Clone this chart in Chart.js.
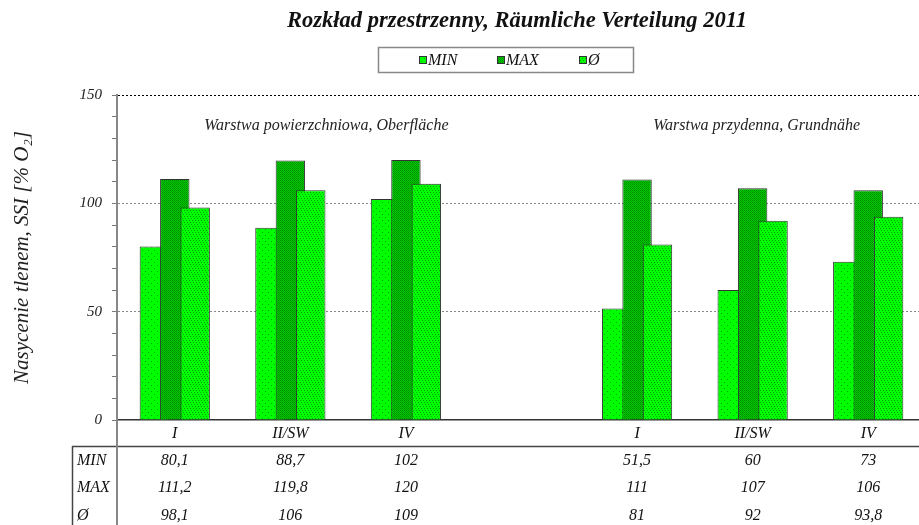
<!DOCTYPE html>
<html>
<head>
<meta charset="utf-8">
<script src="https://cdn.jsdelivr.net/npm/chart.js@4/dist/chart.umd.min.js"></script>
<style>
html,body{margin:0;padding:0;background:#fff;overflow:hidden;width:919px;height:525px;}
canvas{display:block;}
</style>
</head>
<body>
<canvas id="c" width="926" height="525"></canvas>
<script>
const categories = ['I', 'II/SW', 'IV', '', 'I', 'II/SW', 'IV'];
const minValues = [80.1, 88.7, 102, null, 51.5, 60, 73];
const maxValues = [111.2, 119.8, 120, null, 111, 107, 106];
const avgValues = [98.1, 106, 109, null, 81, 92, 93.8];
const seriesLabels = ['MIN', 'MAX', 'Ø'];
const yTickLabels = [0, 50, 100, 150];
const titleText = 'Rozkład przestrzenny, Räumliche Verteilung 2011';
const yTitle = 'Nasycenie tlenem, SSI [% O₂]';
const groupNotes = ['Warstwa powierzchniowa, Oberfläche', 'Warstwa przydenna, Grundnähe'];

const SERIF = '"Liberation Serif", "Times New Roman", serif';

function makePattern(base, dots, size) {
  const c = document.createElement('canvas');
  c.width = size; c.height = size;
  const g = c.getContext('2d');
  g.fillStyle = base; g.fillRect(0, 0, size, size);
  dots.forEach(d => { g.fillStyle = d[2]; g.fillRect(d[0], d[1], 1, 1); });
  return g.createPattern(c, 'repeat');
}
const patMin = makePattern('#00ff00', [[1,1,'#00a000'],[4,4,'#00a000']], 6);
const patMax = makePattern('#00cc00', [[0,0,'#008800'],[2,0,'#008800'],[1,1,'#009900'],[3,1,'#009900'],[0,2,'#008800'],[2,2,'#008800'],[1,3,'#009900'],[3,3,'#009900']], 4);
const patAvg = makePattern('#00ff00', [[1,0,'#00a000'],[4,0,'#00a000'],[2,2,'#00b000'],[5,2,'#00b000'],[0,4,'#00a000'],[3,4,'#00a000']], 6);
const patterns = [patMin, patMax, patAvg];

const fmt = v => v === null ? '' : String(v).replace('.', ',');

const drawOrderPlugin = {
  id: 'drawOrder',
  beforeDatasetsDraw(chart) {
    const ctx = chart.ctx, a = chart.chartArea;
    ctx.save();
    ctx.beginPath();
    ctx.rect(a.left, a.top - 2, a.right - a.left, a.bottom - a.top + 2);
    ctx.clip();
    chart.getSortedVisibleDatasetMetas().forEach(m => m.controller.draw());
    ctx.restore();
    return false;
  }
};

const extrasPlugin = {
  id: 'extras',
  afterDraw(chart) {
    const ctx = chart.ctx, a = chart.chartArea;
    const xs = chart.scales.x, ys = chart.scales.y;
    ctx.save();
    // title
    ctx.fillStyle = '#111';
    ctx.font = 'italic bold 22.5px ' + SERIF;
    ctx.textAlign = 'center';
    ctx.textBaseline = 'middle';
    ctx.fillText(titleText, 517, 21);
    // legend box
    ctx.strokeStyle = '#888';
    ctx.lineWidth = 1.5;
    ctx.strokeRect(378.5, 47.5, 255, 25);
    const legX = [419, 497, 579];
    ctx.font = 'italic 16px ' + SERIF;
    ctx.textAlign = 'left';
    seriesLabels.forEach((lab, i) => {
      ctx.fillStyle = patterns[i];
      ctx.fillRect(legX[i], 56, 8, 8);
      ctx.strokeStyle = '#333'; ctx.lineWidth = 1;
      ctx.strokeRect(legX[i] + 0.5, 56.5, 7, 7);
      ctx.fillStyle = '#111';
      ctx.fillText(lab, legX[i] + 9, 61);
    });
    // group notes
    ctx.font = 'italic 16px ' + SERIF;
    ctx.textAlign = 'center';
    ctx.fillStyle = '#222';
    ctx.fillText(groupNotes[0], xs.getPixelForValue(1) + 36, ys.getPixelForValue(136));
    ctx.fillText(groupNotes[1], xs.getPixelForValue(5) + 4, ys.getPixelForValue(136));
    // table
    ctx.strokeStyle = '#444';
    ctx.lineWidth = 1.5;
    ctx.beginPath();
    ctx.moveTo(72, 446.5); ctx.lineTo(chart.width, 446.5);
    ctx.moveTo(72.5, 446); ctx.lineTo(72.5, 525);
    ctx.stroke();
    ctx.strokeStyle = '#888';
    ctx.lineWidth = 2;
    ctx.beginPath();
    ctx.moveTo(a.left, a.bottom); ctx.lineTo(a.left, 525);
    ctx.stroke();
    const rows = [minValues, maxValues, avgValues];
    const rowY = [461, 488, 516];
    ctx.font = 'italic 16px ' + SERIF;
    ctx.fillStyle = '#111';
    rows.forEach((vals, r) => {
      ctx.textAlign = 'left';
      ctx.fillText(seriesLabels[r], 77, rowY[r]);
      ctx.textAlign = 'center';
      vals.forEach((v, i) => ctx.fillText(fmt(v), xs.getPixelForValue(i), rowY[r]));
    });
    ctx.restore();
  }
};

new Chart(document.getElementById('c'), {
  type: 'bar',
  data: {
    labels: categories,
    datasets: [
      { label: seriesLabels[0], data: minValues, backgroundColor: patMin },
      { label: seriesLabels[1], data: maxValues, backgroundColor: patMax },
      { label: seriesLabels[2], data: avgValues, backgroundColor: patAvg }
    ]
  },
  options: {
    responsive: false,
    animation: false,
    devicePixelRatio: 1,
    layout: { padding: { top: 95, left: 0, right: 0, bottom: 0 } },
    datasets: { bar: { categoryPercentage: 0.53, barPercentage: 1.44, borderColor: '#333', borderWidth: 1, borderSkipped: 'bottom' } },
    plugins: { legend: { display: false }, title: { display: false }, tooltip: { enabled: false } },
    scales: {
      x: {
        grid: { display: false },
        border: { display: true, color: '#333', width: 1.5 },
        ticks: { color: '#111', font: { family: SERIF, size: 16, style: 'italic' }, padding: -4, maxRotation: 0, autoSkip: false },
        afterFit(s) { s.height = 105; }
      },
      y: {
        min: 0, max: 150,
        ticks: {
          stepSize: 10,
          color: '#222',
          font: { family: SERIF, size: 15, style: 'italic' },
          padding: 10,
          callback: v => yTickLabels.includes(v) ? String(v) : ''
        },
        grid: {
          color: c => (c.tick && c.tick.value === 150) ? '#000' : ((c.tick && c.tick.value > 0 && c.tick.value % 50 === 0) ? '#888' : 'rgba(0,0,0,0)'),
          lineWidth: 1,
          tickColor: '#777',
          tickLength: 5,
          drawTicks: true
        },
        border: { display: true, color: '#888', width: 2, dash: [2, 2] },
        title: { display: true, text: yTitle, color: '#222', font: { family: SERIF, size: 21, style: 'italic' }, padding: { top: 10, bottom: 0 } },
        afterFit(s) { s.width = 117; }
      }
    }
  },
  plugins: [drawOrderPlugin, extrasPlugin]
});
</script>
</body>
</html>
